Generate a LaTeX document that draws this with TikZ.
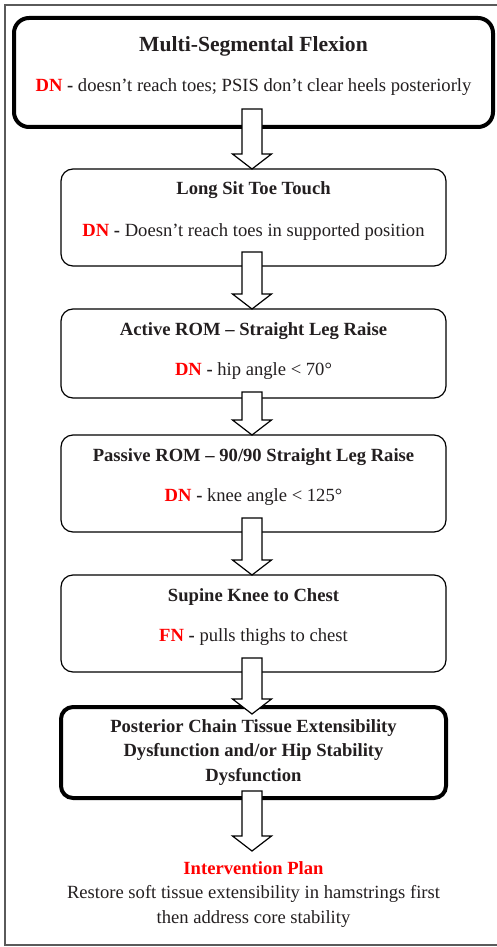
\documentclass[tikz,border=0pt]{standalone}
\usepackage{fontspec}
\setmainfont{Liberation Serif}
\usepackage{tikz}
\usetikzlibrary{positioning, calc}
\usepackage{xcolor}
\definecolor{dnred}{HTML}{FF0000}
\definecolor{ink}{HTML}{231F20}
\definecolor{framegray}{HTML}{5A5A5A}

\newcommand{\bodysize}{\fontsize{18.6}{24.5}\selectfont}
\newcommand{\titlesize}{\fontsize{21.6}{26}\selectfont}
\newcommand{\dn}[1]{\textcolor{dnred}{\textbf{#1}}}
% block arrow: from node, start height above its south, end point
\newcommand{\blockarrow}[3]{%
  \draw[arrowbox] let \p1=($(#1.south)+(-1.5pt,#2)$), \p2=(#3) in
    (\x1-10pt,\y1) -- (\x1-10pt,\y2+15pt) -- (\x1-19.5pt,\y2+15pt) -- (\x1,\y2)
    -- (\x1+19.5pt,\y2+15pt) -- (\x1+10pt,\y2+15pt) -- (\x1+10pt,\y1) -- cycle;}

\begin{document}
\begin{tikzpicture}[
    x=1pt, y=1pt,
    node distance=40pt,
    flowbox/.style={draw=black, line width=1.2pt, rounded corners=12pt, fill=white,
                    minimum width=385pt, minimum height=97pt, align=center,
                    text=ink, inner sep=0pt, outer sep=0pt, font=\bodysize},
    keybox/.style={flowbox, line width=4pt, rounded corners=15pt},
    arrowbox/.style={draw=black, line width=1.2pt, fill=white, line join=miter}
]
\useasboundingbox (0,0) rectangle (497,-947);
\draw[framegray, line width=2pt] (497,-5) -- (5,-5) -- (5,-945) -- (497,-945);

\node[keybox, minimum width=479pt, minimum height=109pt] (flexion) at (253.5,-72.5)
  {{\titlesize\textbf{Multi-Segmental Flexion}}\\[15pt]
   \dn{DN} \textbf{-} doesn’t reach toes; PSIS don’t clear heels posteriorly\\[-8pt]\mbox{}};
\node[flowbox, below=42pt of flexion] (longsit)
  {\textbf{Long Sit Toe Touch}\\[17pt]
   \dn{DN} \textbf{-} Doesn’t reach toes in supported position\\[-8pt]\mbox{}};
\node[flowbox, below=43pt of longsit, minimum height=89pt] (aslr)
  {\textbf{Active ROM – Straight Leg Raise}\\[15pt]
   \dn{DN} \textbf{-} hip angle < 70°\\[-16pt]\mbox{}};
\node[flowbox, below=37pt of aslr] (pslr)
  {\textbf{Passive ROM – 90/90 Straight Leg Raise}\\[16pt]
   \dn{DN} \textbf{-} knee angle < 125°\\[-8pt]\mbox{}};
\node[flowbox, below=43pt of pslr] (kneechest)
  {\textbf{Supine Knee to Chest}\\[16pt]
   \dn{FN} \textbf{-} pulls thighs to chest\\[-8pt]\mbox{}};
\node[keybox, below=35pt of kneechest, minimum height=91pt, rounded corners=12pt] (dysfunction)
  {\textbf{Posterior Chain Tissue Extensibility}\\
   \textbf{Dysfunction and/or Hip Stability}\\
   \textbf{Dysfunction}};
\node[below=63pt of dysfunction, align=center, text=ink, font=\bodysize, inner sep=0pt] (plan)
  {\dn{Intervention Plan}\\
   Restore soft tissue extensibility in hamstrings first\\
   then address core stability};

\blockarrow{flexion}{18pt}{longsit.north}
\blockarrow{longsit}{14pt}{aslr.north}
\blockarrow{aslr}{6pt}{pslr.north}
\blockarrow{pslr}{14pt}{kneechest.north}
\blockarrow{kneechest}{14pt}{$(dysfunction.north)+(0,-7pt)$}
\blockarrow{dysfunction}{7pt}{$(plan.north)+(0,10pt)$}
\end{tikzpicture}
\end{document}
